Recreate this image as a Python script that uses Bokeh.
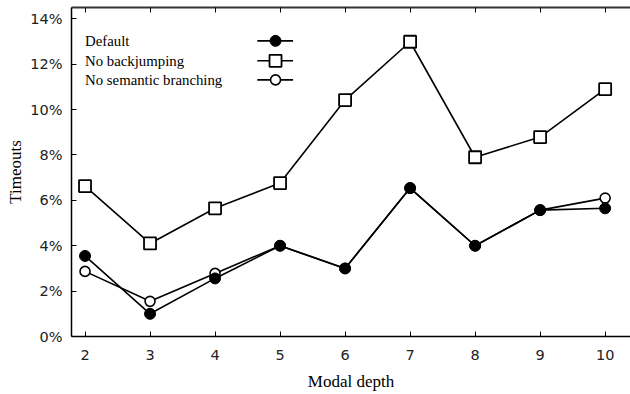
from bokeh.plotting import figure
from bokeh.models import FixedTicker, PrintfTickFormatter, LinearAxis, Range1d, ColumnDataSource
from bokeh.core.properties import value
from bokeh.embed import file_html
from bokeh.resources import INLINE

depth = [2, 3, 4, 5, 6, 7, 8, 9, 10]
default = [3.55, 1.0, 2.56, 4.0, 3.0, 6.54, 4.0, 5.57, 5.65]
no_backjumping = [6.63, 4.1, 5.65, 6.76, 10.42, 12.99, 7.9, 8.79, 10.9]
no_semantic = [2.87, 1.55, 2.78, 4.0, 3.0, 6.54, 4.0, 5.57, 6.1]
series_names = ["Default", "No backjumping", "No semantic branching"]
y_ticks = [0, 2, 4, 6, 8, 10, 12, 14]

SERIF = "Liberation Serif"
SANS = "DejaVu Sans"

p = figure(width=630, height=394, output_backend="svg", toolbar_location=None,
           x_range=Range1d(1.792, 10.39), y_range=Range1d(0, 14.5),
           min_border_left=71, min_border_right=0, min_border_top=7, min_border_bottom=58)
p.grid.visible = False
p.outline_line_color = None
p.background_fill_color = "white"

p.xaxis.ticker = FixedTicker(ticks=depth)
p.yaxis.ticker = FixedTicker(ticks=y_ticks)
p.yaxis.formatter = PrintfTickFormatter(format="%d%%")
for ax in (p.xaxis[0], p.yaxis[0]):
    ax.major_tick_in = 5
    ax.major_tick_out = 0
    ax.minor_tick_line_color = None
    ax.axis_line_color = "black"
    ax.axis_line_width = 1.5
    ax.major_tick_line_color = "black"
    ax.major_label_text_font = SANS
    ax.major_label_text_font_size = "14.5px"
    ax.major_label_text_color = "#222222"
    ax.axis_label_text_font = SERIF
    ax.axis_label_text_font_size = "17px"
    ax.axis_label_text_font_style = "normal"
    ax.axis_label_text_color = "black"
p.xaxis.axis_label = "Modal depth"
p.yaxis.axis_label = "Timeouts"
p.xaxis.major_label_standoff = 13
p.yaxis.major_label_standoff = 9
p.xaxis.axis_label_standoff = 9
p.yaxis.axis_label_standoff = 2

# top border with inward tick marks (minor ticks only, so no labels)
top = LinearAxis(ticker=FixedTicker(ticks=[], minor_ticks=depth),
                 major_tick_line_color=None, minor_tick_in=5, minor_tick_out=0,
                 minor_tick_line_color="black", minor_tick_line_width=1,
                 axis_line_color="#333333", axis_line_width=2)
p.add_layout(top, "above")

src = ColumnDataSource(dict(x=depth, d=default, b=no_backjumping, s=no_semantic))
lw = 1.6
p.line("x", "b", source=src, line_color="black", line_width=lw)
p.scatter("x", "b", source=src, marker="square", size=12, fill_color="white",
          line_color="black", line_width=1.8)
p.line("x", "s", source=src, line_color="black", line_width=lw)
p.scatter("x", "s", source=src, marker="circle", size=10, fill_color="white",
          line_color="black", line_width=1.6)
p.line("x", "d", source=src, line_color="black", line_width=lw)
p.scatter("x", "d", source=src, marker="circle", size=11, fill_color="black",
          line_color="black")

# legend (text left, key right)
leg_y = [13.03, 12.15, 11.31]
leg_src = ColumnDataSource(dict(x=[2.0] * 3, y=leg_y, t=series_names))
p.text("x", "y", text="t", source=leg_src, text_font=value(SERIF), text_font_size="14.8px",
       text_baseline="middle", text_align="left", text_color="black")
key_x0, key_x1, key_xm = 4.65, 5.2, 4.93
markers = [("circle", 11, "black", 1.0), ("square", 12, "white", 1.8), ("circle", 10, "white", 1.6)]
for yy, (mk, sz, fc, mlw) in zip(leg_y, markers):
    p.line([key_x0, key_x1], [yy, yy], line_color="black", line_width=lw)
    p.scatter([key_xm], [yy], marker=mk, size=sz, fill_color=fc, line_color="black", line_width=mlw)

open("out.html", "w").write(file_html(p, INLINE))
